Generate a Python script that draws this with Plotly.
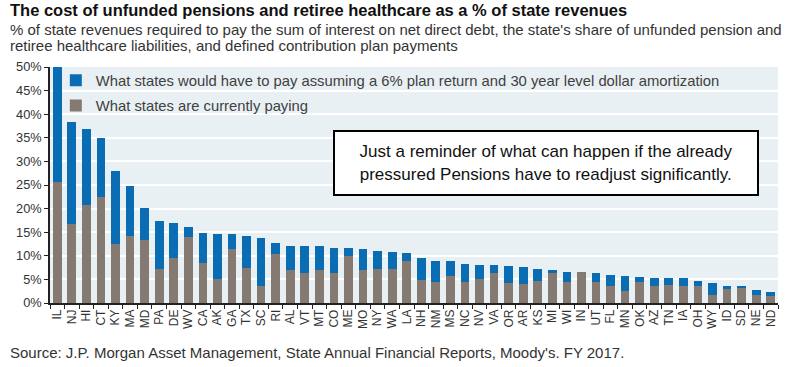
import plotly.graph_objects as go

states = ["IL", "NJ", "HI", "CT", "KY", "MA", "MD", "PA", "DE", "WV",
          "CA", "AK", "GA", "TX", "SC", "RI", "AL", "VT", "MT", "CO",
          "ME", "MO", "NY", "WA", "LA", "NH", "NM", "MS", "NC", "NV",
          "VA", "OR", "AR", "KS", "MI", "WI", "IN", "UT", "FL", "MN",
          "OK", "AZ", "TN", "IA", "OH", "WY", "ID", "SD", "NE", "ND"]

# total required (% of state revenues), assuming 6% return & 30y amortization
required_total = [50.0, 38.4, 36.8, 35.0, 28.0, 24.7, 20.1, 17.4, 17.0, 16.2,
                  14.9, 14.7, 14.7, 14.1, 13.7, 12.7, 12.0, 12.0, 12.0, 11.7,
                  11.6, 11.4, 11.1, 10.9, 10.7, 9.5, 9.0, 8.8, 8.3, 8.1,
                  8.1, 7.9, 7.6, 7.1, 6.9, 6.6, 6.5, 6.3, 5.9, 5.7,
                  5.6, 5.4, 5.3, 5.2, 4.7, 4.2, 3.7, 3.5, 2.8, 2.3]

# what states are currently paying
currently_paying = [25.7, 16.7, 20.8, 22.5, 12.5, 14.2, 13.4, 7.2, 9.5, 13.9,
                    8.5, 5.1, 11.4, 7.4, 3.7, 10.3, 6.9, 6.4, 6.9, 6.3,
                    10.0, 7.0, 7.3, 7.2, 8.9, 4.9, 4.4, 5.8, 4.4, 5.1,
                    6.4, 4.2, 4.1, 4.7, 6.5, 4.4, 6.5, 4.4, 3.6, 2.6,
                    4.4, 3.5, 3.9, 3.7, 3.6, 1.6, 3.0, 3.2, 1.8, 1.4]

additional = [round(t - c, 2) for t, c in zip(required_total, currently_paying)]

y_ticks = list(range(0, 55, 5))
y_tick_labels = [f"{v}%" for v in y_ticks]

BLUE = "#0a6db4"
GRAY = "#857a72"
ARIAL = "Liberation Sans, Arial, sans-serif"

fig = go.Figure()
fig.add_trace(go.Bar(
    x=states, y=currently_paying, name="What states are currently paying",
    marker=dict(color=GRAY, line=dict(width=0)), legendgroup="b", legendrank=2,
))
fig.add_trace(go.Bar(
    x=states, y=additional,
    name="What states would have to pay assuming a 6% plan return and 30 year level dollar amortization",
    marker=dict(color=BLUE, line=dict(width=0)), legendgroup="a", legendrank=1,
))

fig.update_layout(
    barmode="stack",
    bargap=0.4,
    width=800, height=367,
    margin=dict(l=50, r=22, t=67, b=64),
    paper_bgcolor="white",
    plot_bgcolor="#e9f0f4",
    font=dict(family=ARIAL, size=12, color="#333333"),
    showlegend=True,
    legend=dict(
        x=0.008, y=1.012, xanchor="left", yanchor="top",
        bgcolor="rgba(0,0,0,0)", traceorder="grouped",
        tracegroupgap=3, itemwidth=30,
        font=dict(family=ARIAL, size=14.8, color="#404040"),
    ),
    xaxis=dict(
        tickangle=-90, tickfont=dict(family=ARIAL, size=12, color="#333333"),
        showline=True, linecolor="#222222", linewidth=1.5,
        ticks="outside", ticklen=4, tickcolor="#222222", tickson="boundaries",
        showgrid=False, fixedrange=True,
    ),
    yaxis=dict(
        range=[0, 50], tickvals=y_ticks, ticktext=y_tick_labels,
        tickfont=dict(family=ARIAL, size=12.8, color="#333333"),
        showline=True, linecolor="#222222", linewidth=1.5,
        ticks="outside", ticklen=4, tickcolor="#222222",
        showgrid=True, gridcolor="white", gridwidth=1.5, zeroline=False,
    ),
)

annotations = [
    dict(text="<b>The cost of unfunded pensions and retiree healthcare as a % of state revenues</b>",
         x=-0.058, y=1.242, xref="paper", yref="paper", xanchor="left", yanchor="middle",
         showarrow=False, font=dict(family=ARIAL, size=16.5, color="#111111")),
    dict(text="% of state revenues required to pay the sum of interest on net direct debt, the state's share of unfunded pension and",
         x=-0.058, y=1.157, xref="paper", yref="paper", xanchor="left", yanchor="middle",
         showarrow=False, font=dict(family=ARIAL, size=15, color="#333333")),
    dict(text="retiree healthcare liabilities, and defined contribution plan payments",
         x=-0.058, y=1.089, xref="paper", yref="paper", xanchor="left", yanchor="middle",
         showarrow=False, font=dict(family=ARIAL, size=15, color="#333333")),
    dict(text="Source: J.P. Morgan Asset Management, State Annual Financial Reports, Moody's. FY 2017.",
         x=-0.058, y=-0.208, xref="paper", yref="paper", xanchor="left", yanchor="middle",
         showarrow=False, font=dict(family=ARIAL, size=15, color="#333333")),
    dict(text="Just a reminder of what can happen if the already<br>pressured Pensions have to readjust significantly.",
         x=0.681, y=0.593, xref="paper", yref="paper", xanchor="center", yanchor="middle",
         showarrow=False, align="center", width=420, height=60,
         bgcolor="white", bordercolor="black", borderwidth=2, borderpad=1,
         font=dict(family=ARIAL, size=17, color="#111111")),
]
fig.update_layout(annotations=annotations)

fig.write_html("out.html", config={"displayModeBar": False},
               post_script="document.body.style.margin='0';")
